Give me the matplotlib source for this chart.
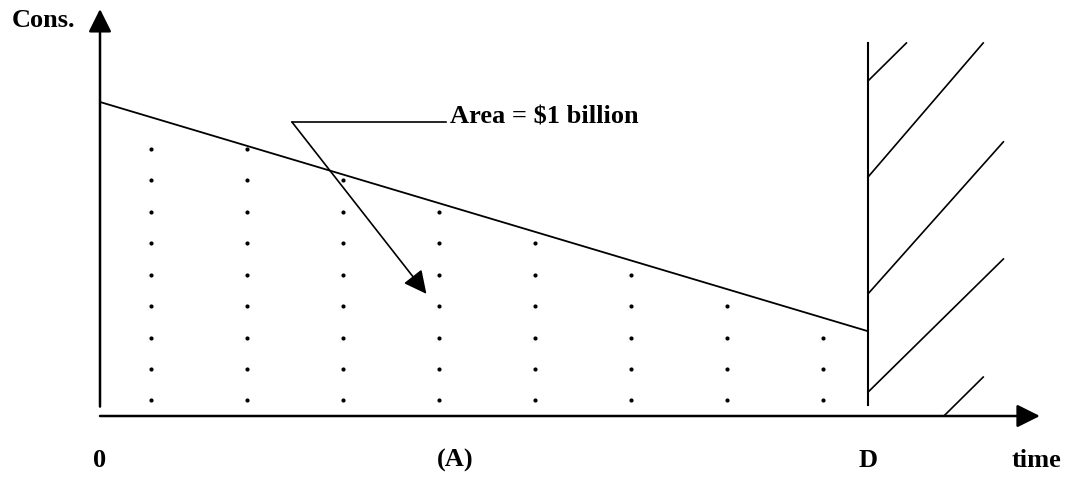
import matplotlib
matplotlib.use("Agg")
import matplotlib.pyplot as plt

# consumption path from 0 to D (time units, D = 8)
time_pts = [0, 8]
cons_pts = [10.0, 2.7]

# dotted area under the path: column positions and dots per column
dot_cols = [0.53, 1.53, 2.53, 3.53, 4.53, 5.53, 6.53, 7.53]
dot_counts = [9, 9, 8, 7, 6, 5, 4, 3]
dot_rows = [0.5, 1.5, 2.5, 3.5, 4.5, 5.5, 6.5, 7.5, 8.5]

# hatched region after D (x0, y0, x1, y1)
hatch_x0 = [8.0, 8.0, 8.0, 8.0, 8.79]
hatch_y0 = [10.67, 7.61, 3.89, 0.76, 0.0]
hatch_x1 = [8.40, 9.20, 9.41, 9.41, 9.20]
hatch_y1 = [11.88, 11.88, 8.73, 5.0, 1.24]

tick_pos = [0, 3.7, 8, 9.76]
tick_txt = ["0", "(A)", "D", "time"]

fnt = dict(family="Liberation Serif", fontweight="bold", fontsize=19)

fig = plt.figure(figsize=(10.7, 4.81), dpi=100)
ax = fig.add_axes([0, 0, 1, 1])
ax.set_xlim(-1.0417, 10.104)
ax.set_ylim(-2.038, 13.28)
ax.axis("off")

arr = dict(arrowstyle="-|>,head_length=1.4,head_width=0.7", mutation_scale=10,
           color="black", shrinkA=0, shrinkB=0)

# axes
ax.annotate("", xy=(0, 12.96), xytext=(0, 0.3), arrowprops=dict(arr, lw=1.8))
ax.annotate("", xy=(9.79, 0), xytext=(0, 0), arrowprops=dict(arr, lw=1.8))

# consumption line
ax.plot(time_pts, cons_pts, color="black", lw=1.3)

# dots
for xc, n in zip(dot_cols, dot_counts):
    ax.plot([xc] * n, dot_rows[:n], "o", color="black", ms=3, mew=0)

# vertical line at D and hatching
ax.plot([8, 8], [0.35, 11.88], color="black", lw=1.5)
for a, b, c, d in zip(hatch_x0, hatch_y0, hatch_x1, hatch_y1):
    ax.plot([a, c], [b, d], color="black", lw=1.2)

# area label with leader and arrow
ax.plot([2.0, 3.6], [9.36, 9.36], color="black", lw=1.2)
ax.annotate("", xy=(3.4, 3.89), xytext=(2.0, 9.36), arrowprops=dict(arr, lw=1.2))
ax.text(3.65, 9.36, "Area = $1 billion", ha="left", va="baseline", **fnt)

ax.text(-0.917, 12.42, "Cons.", ha="left", va="baseline", **fnt)
for p, t in zip(tick_pos, tick_txt):
    ax.text(p, -1.59, t, ha="center", va="baseline", **fnt)

fig.savefig("out.png", dpi=100)
